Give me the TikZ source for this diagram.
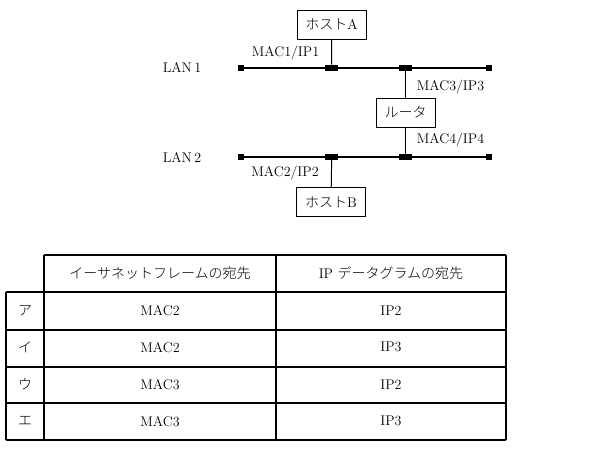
\documentclass[tikz,border=0pt]{standalone}
\usepackage{fontspec}
\newfontfamily\jp{Noto Sans CJK JP Light}
\usepackage{tikz}
\usetikzlibrary{positioning}
\tikzstyle{connector} = [line width=0.7mm]
\tikzstyle{drop} = [line width=0.35mm]
\tikzstyle{grid} = [line width=0.4mm]
\tikzstyle{box} = [draw, line width=0.35mm, minimum width=69pt, minimum height=29pt, inner sep=0pt, font=\fontsize{14}{14}\selectfont]
\tikzstyle{tap} = [fill=black, minimum width=13pt, minimum height=6pt, inner sep=0pt]
\tikzstyle{term} = [fill=black, minimum size=6pt, inner sep=0pt]
\tikzstyle{lbl} = [font=\fontsize{14}{14}\selectfont]
\tikzstyle{cell} = [font=\fontsize{14}{14}\selectfont]

\begin{document}
\begin{tikzpicture}[x=1pt, y=-1pt]
                \useasboundingbox (0,0) rectangle (592,453);
                % network
                \node (hostA) [box] at (331.5,24.5) {{\jp ホスト}A};
                \node (router) [box, minimum width=59pt] at (405.5,112.5) {\jp ルータ};
                \node (hostB) [box] at (331,202) {{\jp ホスト}B};

                \node (endA1) [term] at (241,67.7) {};
                \node (endA2) [term] at (489,67.7) {};
                \node (endB1) [term] at (241,156.7) {};
                \node (endB2) [term] at (489,156.7) {};
                \draw [connector] (endA1) -- (endA2);
                \draw [connector] (endB1) -- (endB2);
                \node (tapA) [tap] at (331.7,67.7) {};
                \node (tapR1) [tap] at (405,67.7) {};
                \node (tapB) [tap] at (331.7,156.7) {};
                \node (tapR2) [tap] at (405,156.7) {};

                \draw [drop] (hostA) -- (tapA);
                \draw [drop] (tapR1) -- (router.north -| tapR1);
                \draw [drop] (router.south -| tapR2) -- (tapR2);
                \draw [drop] (tapB) -- (hostB);

                \node (lan1) [lbl] at (182,67) {LAN\,1};
                \node (lan2) [lbl] at (182,157) {LAN\,2};
                \node (adrA) [lbl] at (285.5,53) {MAC1/IP1};
                \node (adrR1) [lbl] at (450.5,87) {MAC3/IP3};
                \node (adrR2) [lbl] at (450.5,140) {MAC4/IP4};
                \node (adrB) [lbl] at (285,173) {MAC2/IP2};

                % table
                \draw [grid] (44,255) -- (506,255);
                \foreach \y in {292,330,367,403,440}
                    \draw [grid] (6,\y) -- (506,\y);
                \draw [grid] (6,292) -- (6,440);
                \foreach \x in {44,276,506}
                    \draw [grid] (\x,255) -- (\x,440);
                \node (head1) [cell] at (160,273.5) {\jp イーサネットフレームの宛先};
                \node (head2) [cell] at (391,273.5) {IP {\jp データグラムの宛先}};
                \foreach \k/\mac/\ip [count=\i] in {ア/MAC2/IP2, イ/MAC2/IP3, ウ/MAC3/IP2, エ/MAC3/IP3} {
                    \node (key\i) [cell] at (25,292+\i*36.9-18.45) {\jp \k};
                    \node (mac\i) [cell] at (160,292+\i*36.9-18.45) {\mac};
                    \node (ip\i) [cell] at (391,292+\i*36.9-18.45) {\ip};
                }
            \end{tikzpicture}
\end{document}
